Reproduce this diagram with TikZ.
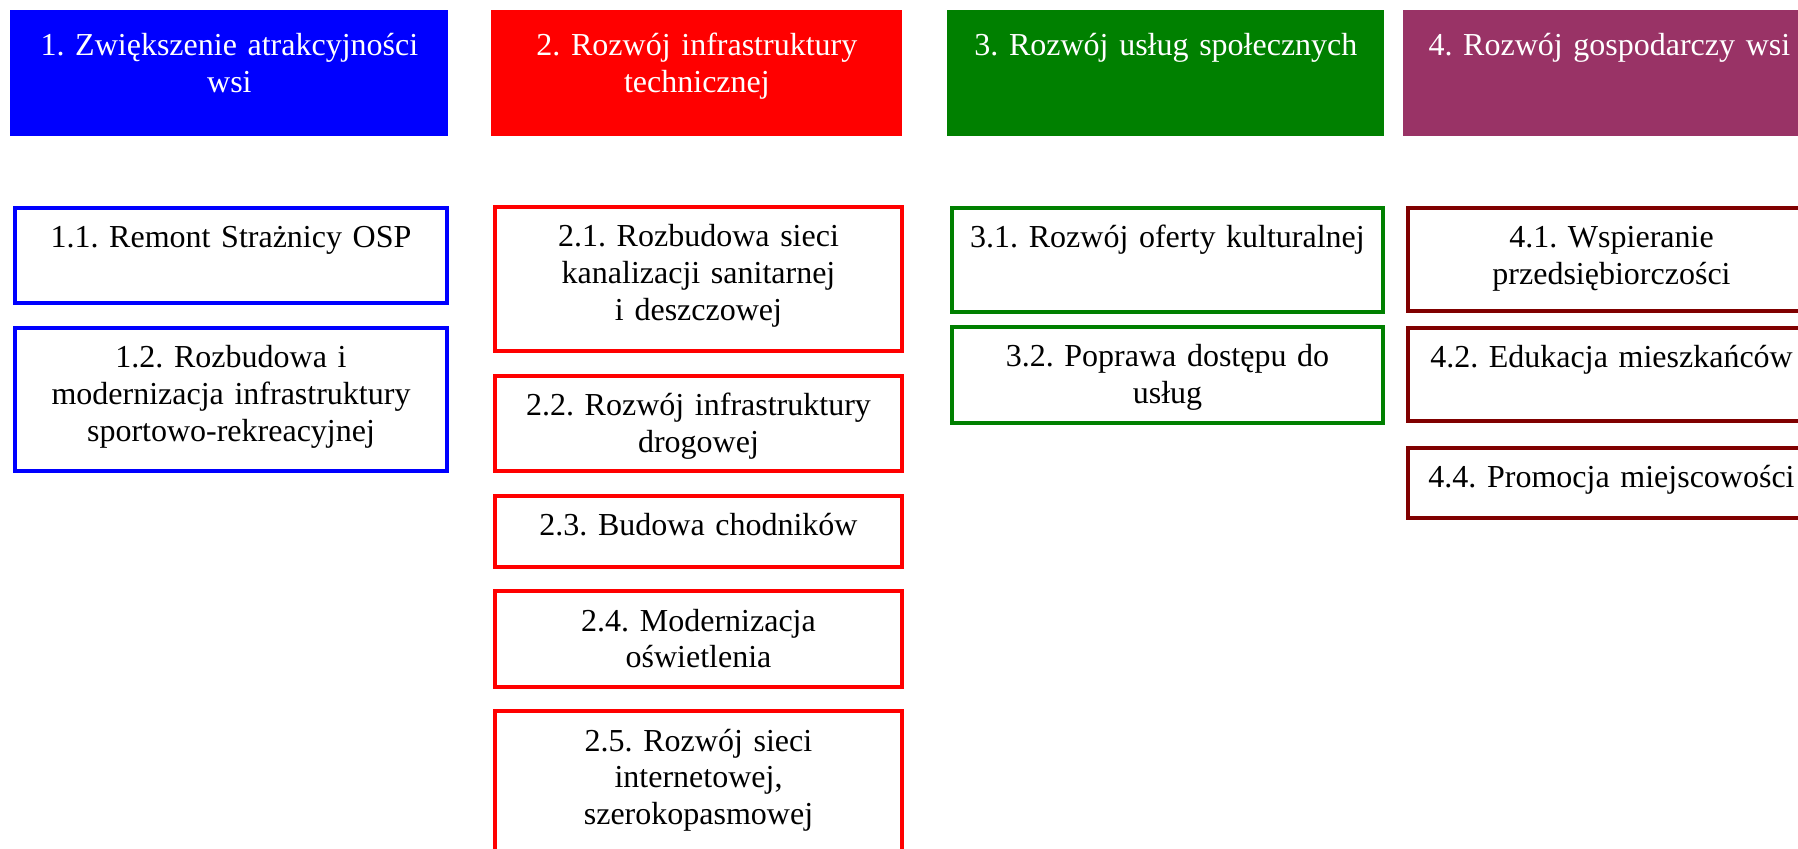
\documentclass[tikz,border=0pt]{standalone}
\usepackage{fontspec}
\setmainfont{Liberation Serif}
\usepackage{tikz}
\usetikzlibrary{positioning}
\frenchspacing
\definecolor{niebieski}{HTML}{0000FF}
\definecolor{czerwony}{HTML}{FF0000}
\definecolor{zielony}{HTML}{008000}
\definecolor{sliwka}{HTML}{993366}
\definecolor{bordo}{HTML}{800000}
\tikzset{naglowek/.style={rectangle,inner sep=0pt,align=center,anchor=north west,text=white,
                          text height=22.5pt,text depth=40.5pt},
         zadanie/.style={rectangle,draw,line width=2pt,inner sep=0pt,align=center,anchor=north west,
                         text=black,text height=20pt}
}

\begin{document}
\begin{tikzpicture}[x=0.5pt,y=-0.5pt,
font=\fontsize{16}{18.4}\selectfont]
\useasboundingbox (0,0) rectangle (1798,849);
\clip (0,0) rectangle (1798,849);
% cele
\node [naglowek,fill=niebieski,text width=219pt] (cel1) at (10,10) {1. Zwiększenie atrakcyjności\\wsi};
\node [naglowek,fill=czerwony,text width=205.5pt] (cel2) at (491,10) {2. Rozwój infrastruktury\\technicznej};
\node [naglowek,fill=zielony,text width=218.5pt] (cel3) at (947,10) {3. Rozwój usług społecznych};
\node [naglowek,fill=sliwka,text width=206pt] (cel4) at (1403,10) {4. Rozwój gospodarczy wsi};
% kierunki 1
\node [zadanie,draw=niebieski,text width=216pt,text depth=27.5pt] (dz11) at (13,206) {1.1. Remont Strażnicy OSP};
\node [zadanie,draw=niebieski,text width=216pt,text depth=51.5pt] (dz12) at (13,326)
    {1.2. Rozbudowa i\\modernizacja infrastruktury\\sportowo-rekreacyjnej};
% kierunki 2
\node [zadanie,draw=czerwony,text width=203.5pt,text depth=52pt] (dz21) at (493,205)
    {2.1. Rozbudowa sieci\\kanalizacji sanitarnej\\i deszczowej};
\node [zadanie,draw=czerwony,text width=203.5pt,text depth=27.5pt] (dz22) at (493,374)
    {2.2. Rozwój infrastruktury\\drogowej};
\node [zadanie,draw=czerwony,text width=203.5pt,text depth=15.5pt] (dz23) at (493,494) {2.3. Budowa chodników};
\node [zadanie,draw=czerwony,text width=203.5pt,text depth=28pt] (dz24) at (493,589)
    {2.4. Modernizacja\\oświetlenia};
\node [zadanie,draw=czerwony,text width=203.5pt,text depth=54.5pt] (dz25) at (493,709)
    {2.5. Rozwój sieci\\internetowej,\\szerokopasmowej};
% kierunki 3
\node [zadanie,draw=zielony,text width=215.5pt,text depth=32pt] (dz31) at (950,206) {3.1. Rozwój oferty kulturalnej};
\node [zadanie,draw=zielony,text width=215.5pt,text depth=28pt] (dz32) at (950,325)
    {3.2. Poprawa dostępu do\\usług};
% kierunki 4
\node [zadanie,draw=bordo,text width=203.5pt,text depth=31.5pt] (dz41) at (1406,206)
    {4.1. Wspieranie\\przedsiębiorczości};
\node [zadanie,draw=bordo,text width=203.5pt,text depth=26.5pt] (dz42) at (1406,326) {4.2. Edukacja mieszkańców};
\node [zadanie,draw=bordo,text width=203.5pt,text depth=15pt] (dz44) at (1406,446) {4.4. Promocja miejscowości};
\end{tikzpicture}
\end{document}
